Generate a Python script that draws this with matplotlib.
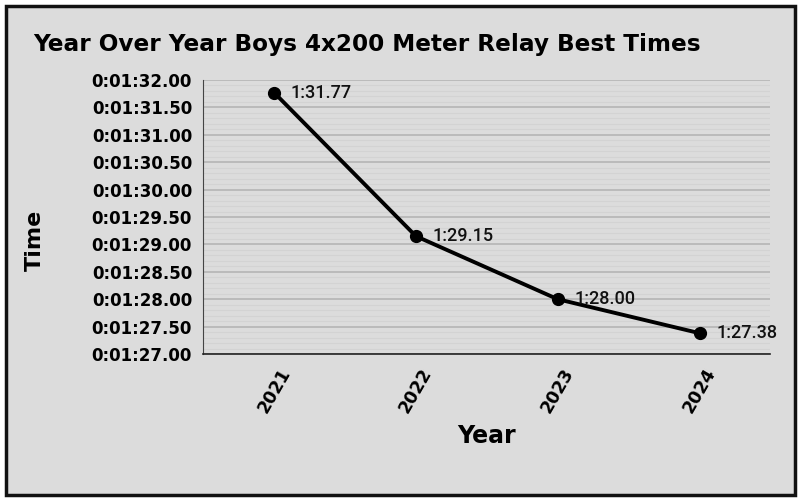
import matplotlib.pyplot as plt
from matplotlib.patches import Rectangle
from matplotlib.ticker import MultipleLocator, FuncFormatter

years = ["2021", "2022", "2023", "2024"]
best_times = [91.77, 89.15, 88.00, 87.38]  # seconds
time_labels = ["1:31.77", "1:29.15", "1:28.00", "1:27.38"]

BG = "#dcdcdc"
HEAVY = "DejaVu Sans"


def fmt_time(v, pos):
    m = int(v // 60)
    s = v - m * 60
    return "0:%02d:%05.2f" % (m, s)


plt.rcParams['font.family'] = ['Liberation Sans', 'DejaVu Sans']

fig = plt.figure(figsize=(8, 5), dpi=100)
fig.patch.set_facecolor("white")
fig.patches.append(Rectangle((6 / 800, 5 / 500), 789 / 800, 489 / 500, transform=fig.transFigure,
                             facecolor=BG, edgecolor="#111111", linewidth=2.5, zorder=-5))

ax = fig.add_axes([0.254, 0.292, 0.709, 0.548])
ax.set_facecolor(BG)
x = list(range(len(years)))
ax.plot(x, best_times, color="black", lw=2.8, marker="o", ms=8.5, zorder=3)
for xi, t, lab in zip(x, best_times, time_labels):
    ax.annotate(lab, (xi, t), xytext=(12, 0), textcoords="offset points",
                va="center", ha="left", fontsize=13, fontweight="medium",
                color="#111111", family="Roboto")

ax.set_xlim(-0.5, 3.5)
ax.set_ylim(87, 92)
ax.set_xticks(x)
ax.set_xticklabels(years, rotation=60, fontsize=12.5, fontweight="bold", family=HEAVY)
ax.yaxis.set_major_locator(MultipleLocator(0.5))
ax.yaxis.set_minor_locator(MultipleLocator(0.1))
ax.yaxis.set_major_formatter(FuncFormatter(fmt_time))
for lab in ax.get_yticklabels():
    lab.set_fontweight("bold")
    lab.set_fontsize(12)
    lab.set_family(HEAVY)
ax.tick_params(axis="both", length=0, pad=8)
ax.tick_params(axis="y", which="minor", length=0)
ax.grid(axis="y", which="major", color="#b5b5b5", lw=1.2)
ax.grid(axis="y", which="minor", color="#d3d3d3", lw=0.8)
ax.set_axisbelow(True)
for side in ["top", "right"]:
    ax.spines[side].set_visible(False)
ax.spines["left"].set_color("#444444")
ax.spines["bottom"].set_color("#222222")
ax.spines["bottom"].set_linewidth(1.2)

ax.set_xlabel("Year", fontsize=17, fontweight="bold", family=HEAVY, labelpad=6)
ax.set_ylabel("Time", fontsize=16, fontweight="bold", family=HEAVY)
ax.yaxis.set_label_coords(-0.279, 0.416)
fig.text(33 / 800, 1 - 45 / 500, "Year Over Year Boys 4x200 Meter Relay Best Times",
         fontsize=16.7, fontweight="bold", family=HEAVY, va="center", ha="left")

fig.savefig("out.png", dpi=100)
